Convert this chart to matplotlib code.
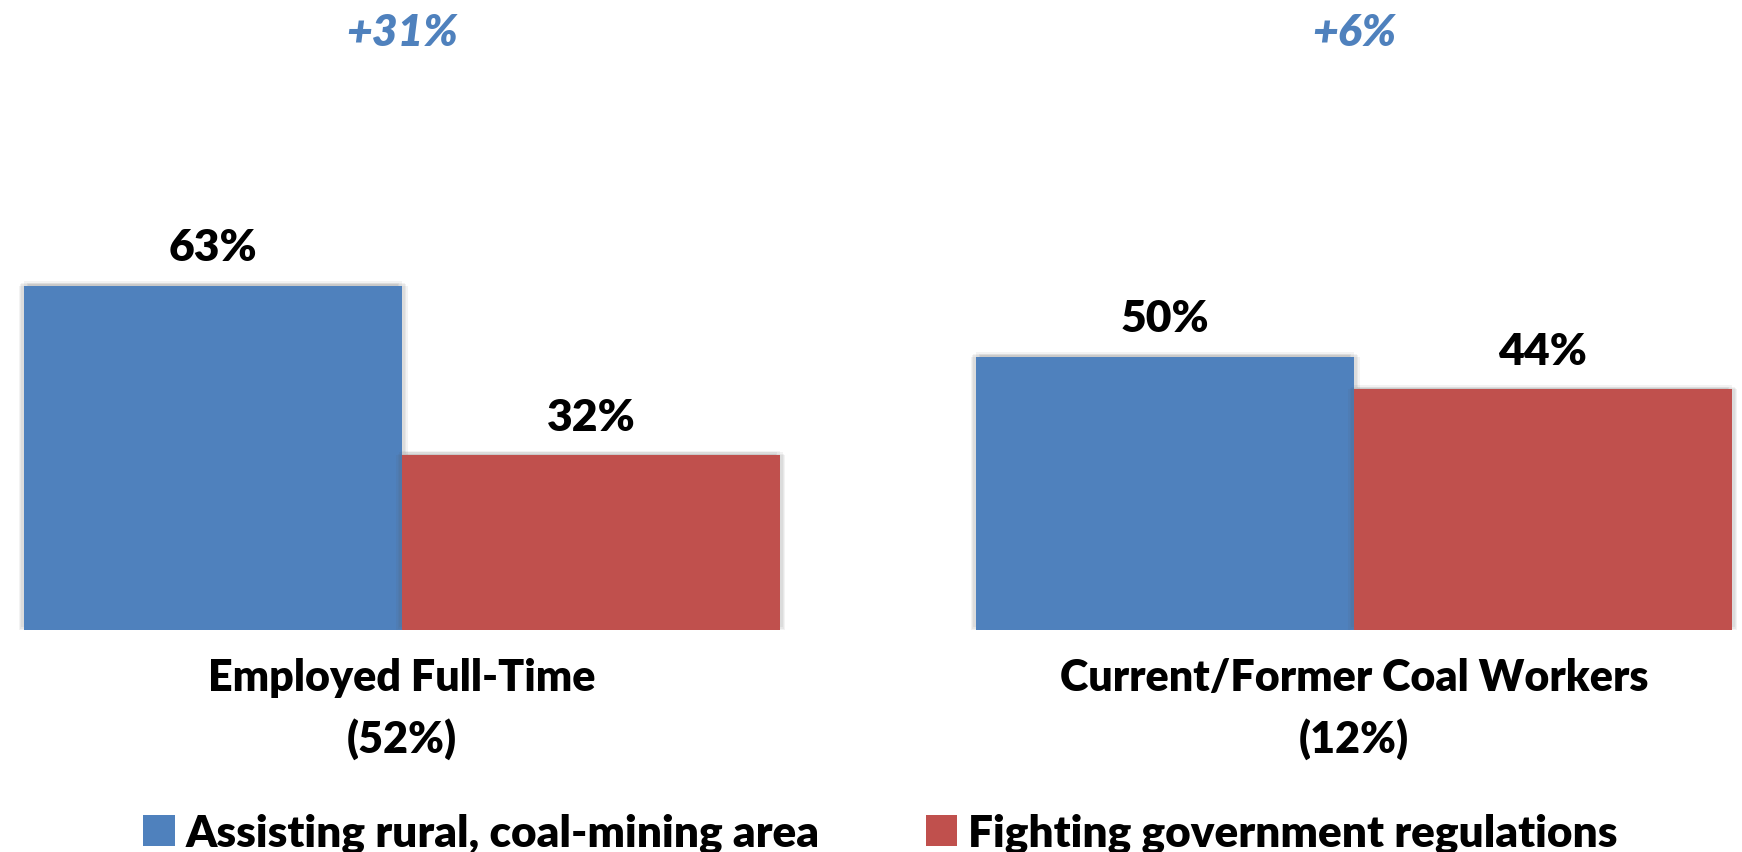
import matplotlib
matplotlib.use("Agg")
import matplotlib.pyplot as plt
from matplotlib.patches import Patch
import matplotlib.patheffects as pe
import numpy as np

categories = ["Employed Full-Time", "Current/Former Coal Workers"]
category_shares = ["(52%)", "(12%)"]
series_names = ["Assisting rural, coal-mining area", "Fighting government regulations"]
assisting = [63, 50]
fighting = [32, 44]
colors = ["#4F81BD", "#C0504D"]

plt.rcParams['font.family'] = ['Lato', 'DejaVu Sans']

fig = plt.figure(figsize=(17.42, 8.53), dpi=100)
ax = fig.add_axes([0, 0, 1, 1])

glow = [pe.SimplePatchShadow(offset=(dx, dy), shadow_rgbFace='#555555', alpha=0.07)
        for dx, dy in [(-4, 0), (4, 0), (0, 3), (-2, 2), (2, 2), (-3, 1), (3, 1)]] + [pe.Normal()]

x = np.arange(len(categories))
w = 0.397
b1 = ax.bar(x - w / 2, assisting, width=w, color=colors[0], linewidth=0, zorder=2)
b2 = ax.bar(x + w / 2, fighting, width=w, color=colors[1], linewidth=0, zorder=2)
for p in list(b1) + list(b2):
    p.set_path_effects(glow)

fs = 32
wt = 'heavy'
for xi, a, f in zip(x, assisting, fighting):
    ax.text(xi - w / 2, a + 7.0, f"{a}%", ha='center', va='center', fontsize=fs, fontweight=wt)
    ax.text(xi + w / 2, f + 7.0, f"{f}%", ha='center', va='center', fontsize=fs, fontweight=wt)
    ax.text(xi, 109.4, f"+{a - f}%", ha='center', va='center', fontsize=fs,
            fontweight=wt, fontstyle='italic', color=colors[0])

for xi, c, s in zip(x, categories, category_shares):
    ax.text(xi, -8.6, c, ha='center', va='center', fontsize=31, fontweight=wt)
    ax.text(xi, -19.7, s, ha='center', va='center', fontsize=31, fontweight=wt)

ax.set_xlim(-402 / 952, (1742 - 402) / 952)
ax.set_ylim(-40.6, 115.4)
ax.axis('off')

handles = [Patch(facecolor=c, edgecolor='none') for c in colors]
fig.legend(handles, series_names, loc='center', bbox_to_anchor=(0.5055, 1 - 834 / 853),
           ncol=2, frameon=False, prop={'weight': wt, 'size': 31.8},
           handlelength=0.71, handleheight=0.71, handletextpad=0.25, columnspacing=2.4)

fig.savefig("out.png", dpi=100)
